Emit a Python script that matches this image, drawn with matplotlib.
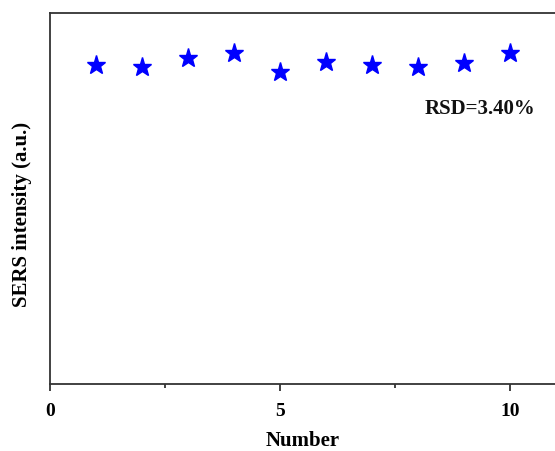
import matplotlib
matplotlib.use("Agg")
import matplotlib.pyplot as plt
from matplotlib.ticker import MultipleLocator

numbers = [1, 2, 3, 4, 5, 6, 7, 8, 9, 10]
intensity = [860, 855, 879, 892, 842, 867, 860, 854, 866, 892]
xticks = [0, 5, 10]
xticklabels = ["0", "5", "10"]
rsd_text = "RSD=3.40%"

plt.rcParams['font.family'] = ['Liberation Serif', 'DejaVu Serif']
plt.rcParams['font.weight'] = 'bold'

fig = plt.figure(figsize=(5.55, 4.52), dpi=100)
ax = fig.add_axes([50/555, (452-385)/452, 506/555, (385-14)/452])

ax.plot(numbers, intensity, linestyle='none', marker='*', markersize=14,
        color='#0000FF', markeredgecolor='#0000FF')

ax.set_xlim(0, 11)
ax.set_ylim(0, 1000)
ax.set_xticks(xticks)
ax.set_xticklabels(xticklabels, fontsize=14, fontweight='bold')
ax.xaxis.set_minor_locator(MultipleLocator(2.5))
ax.tick_params(axis='x', which='major', direction='out', length=5, width=1.3, color='#333333', pad=8)
ax.tick_params(axis='x', which='minor', direction='out', length=3, width=1.3, color='#333333')
ax.set_yticks([])

for s in ax.spines.values():
    s.set_linewidth(1.3)
    s.set_color('#333333')

ax.set_xlabel("Number", fontsize=15, fontweight='bold')
ax.xaxis.set_label_coords(0.5, -0.125)
ax.set_ylabel("SERS intensity (a.u.)", fontsize=15, fontweight='bold')
ax.yaxis.set_label_coords(-0.035, 0.46)

ax.text(0.96, 0.745, rsd_text, transform=ax.transAxes, ha='right', va='center',
        fontsize=15, fontweight='bold', color='#111111')

fig.savefig("out.png", dpi=100)
